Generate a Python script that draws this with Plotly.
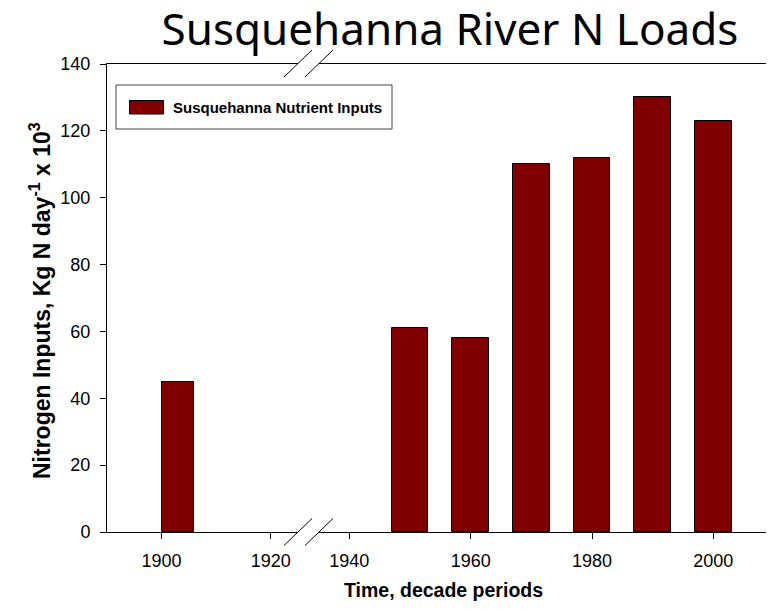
import plotly.graph_objects as go

# ---- data ----
early_years = [1900]
early_loads = [45]
late_years = [1950, 1960, 1970, 1980, 1990, 2000]
late_loads = [61, 58, 110, 112, 130, 123]
left_ticks = [1900, 1920]
right_ticks = [1940, 1960, 1980, 2000]
series_name = "Susquehanna Nutrient Inputs"

# page has an 8px body margin; lay out in window pixels and convert
OFF = 8
W, H = 774 - OFF, 609 - OFF
L, R, T, B = 107 - OFF, 0, 64 - OFF, 609 - 532

PW = W - L - R
PH = H - T - B

def px(x):
    return (x - OFF - L) / PW

def py(y):
    return (H - B - (y - OFF)) / PH

BAR = "#800000"
FONT = "Liberation Sans, Arial, sans-serif"

fig = go.Figure()
fig.add_trace(go.Bar(x=early_years, y=early_loads, name=series_name, width=6, offset=0,
                     marker=dict(color=BAR, line=dict(color="black", width=1)),
                     xaxis="x", yaxis="y", showlegend=False))
fig.add_trace(go.Bar(x=late_years, y=late_loads, name=series_name, width=6,
                     marker=dict(color=BAR, line=dict(color="black", width=1)),
                     xaxis="x2", yaxis="y", showlegend=False))

xcommon = dict(showline=True, linecolor="black", linewidth=1, mirror=True,
               ticks="outside", ticklen=6, tickcolor="black", showgrid=False,
               zeroline=False, tickfont=dict(family=FONT, size=18, color="black"),
               ticklabelstandoff=6)

brk1 = px(298)
brk2 = px(319)

fig.update_layout(
    width=W, height=H, margin=dict(l=L, r=R, t=T, b=B),
    paper_bgcolor="white", plot_bgcolor="white",
    bargap=0,
    xaxis=dict(domain=[0, brk1], range=[1890, 1925], tickvals=left_ticks,
               ticktext=[str(v) for v in left_ticks], anchor="y", **xcommon),
    xaxis2=dict(domain=[brk2, 1], range=[1935, 2010], tickvals=right_ticks,
                ticktext=[str(v) for v in right_ticks], anchor="y", **xcommon),
    yaxis=dict(range=[0, 140], dtick=20, showline=True, linecolor="black", linewidth=1,
               ticks="outside", ticklen=6, tickcolor="black", showgrid=False,
               zeroline=False, tickfont=dict(family=FONT, size=18, color="black"),
               ticklabelstandoff=6),
    title=dict(text="Susquehanna River N Loads", xref="container", x=(450 - OFF) / W,
               xanchor="center", yref="container", y=1 - (30 - OFF) / H, yanchor="middle",
               font=dict(family="Noto Sans", size=44, color="black")),
    showlegend=False,
)

shapes = []
# axis-break marks, bottom and top
for yc in (532, 63.5):
    for xc in (298, 319):
        shapes.append(dict(type="line", xref="paper", yref="paper",
                           x0=px(xc - 14), y0=py(yc + 13.5), x1=px(xc + 14), y1=py(yc - 13.5),
                           line=dict(color="black", width=1)))
# legend box and swatch
shapes.append(dict(type="rect", xref="paper", yref="paper",
                   x0=px(116), y0=py(129), x1=px(392), y1=py(85),
                   line=dict(color="#444444", width=1), fillcolor="white", layer="above"))
shapes.append(dict(type="rect", xref="paper", yref="paper",
                   x0=px(129.5), y0=py(114), x1=px(163.5), y1=py(100.5),
                   line=dict(color="black", width=1), fillcolor=BAR, layer="above"))
fig.update_layout(shapes=shapes)

fig.add_annotation(text="<b>" + series_name + "</b>", xref="paper", yref="paper",
                   x=px(171), y=py(107), xanchor="left", yanchor="middle", showarrow=False,
                   font=dict(family=FONT, size=15, color="black"))
fig.add_annotation(text="<b>Time, decade periods</b>", xref="paper", yref="paper",
                   x=px(443), y=py(590), xanchor="center", yanchor="middle", showarrow=False,
                   font=dict(family=FONT, size=19.5, color="black"))
fig.add_annotation(text="<b>Nitrogen Inputs, Kg N day<sup>-1</sup> x 10<sup>3</sup></b>",
                   xref="paper", yref="paper", x=px(40), y=py(301), textangle=-90,
                   xanchor="center", yanchor="middle", showarrow=False,
                   font=dict(family=FONT, size=23, color="black"))

fig.write_html("out.html")
